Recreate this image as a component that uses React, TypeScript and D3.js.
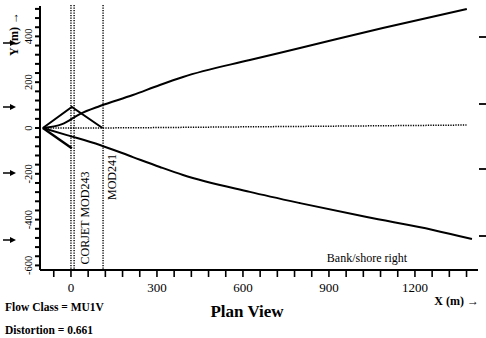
import React from "react";
import * as d3 from "d3";

// Plume boundaries and centreline, plan view (metres)
const upperX = [-98, -31, 31, 101, 216, 310, 391, 624, 799, 1088, 1381];
const upperY = [0, 17, 61, 96, 144, 188, 223, 297, 349, 437, 520];
const lowerX = [-98, -14, 101, 216, 310, 391, 624, 799, 1032, 1263, 1399];
const lowerY = [0, -31, -74, -127, -170, -205, -279, -328, -389, -445, -485];
const centerX = [-98, 0, 600, 1380];
const centerY = [0, 0, 5, 13];
// Near-field outline
const nearX = [-98, 3, 110];
const nearY = [0, 92, 0];
const nearLowX = [-98, 3];
const nearLowY = [0, -88];

// Module boundaries
const modules = [
  { name: "CORJET", x: 0 },
  { name: "MOD243", x: 11 },
  { name: "MOD241", x: 112 },
];

const xTickLabels = [0, 300, 600, 900, 1200];
const yTickLabels = [-600, -400, -200, 0, 200, 400];

const W = 486;
const H = 338;
const serif = "'Liberation Serif', 'Times New Roman', serif";

export default function App() {
  const x = d3.scaleLinear().domain([-108, 1420]).range([40, 478]);
  const y = d3.scaleLinear().domain([-620, 0]).range([270, 128]);
  const yTop = y(528);

  const line = d3
    .line<[number, number]>()
    .x((d) => x(d[0]))
    .y((d) => y(d[1]))
    .curve(d3.curveMonotoneX);
  const straight = d3
    .line<[number, number]>()
    .x((d) => x(d[0]))
    .y((d) => y(d[1]));

  const zip = (a: number[], b: number[]) => a.map((v, i) => [v, b[i]] as [number, number]);

  const xMinorTicks = d3.range(-60, 1400, 60);
  const yMinorTicks = d3.range(-600, 528, 40);

  const leftArrows = [43, 107, 173, 240];
  const rightMarks = [37, 104, 169, 236];

  return (
    <svg
      width={W}
      height={H}
      style={{ position: "absolute", left: 0, top: 0, background: "#fff" }}
      fontFamily={serif}
    >
      <rect x={0} y={0} width={W} height={H} fill="#fff" />

      {/* Module boundary lines */}
      {modules.map((m) => (
        <line
          key={m.name}
          x1={x(m.x)}
          x2={x(m.x)}
          y1={5}
          y2={270}
          stroke="#000"
          strokeWidth={1.4}
          strokeDasharray="1.3,1.2"
        />
      ))}
      <text
        transform={`translate(${x(5) + 17},218) rotate(-90)`}
        textAnchor="middle"
        fontSize={12}
      >
        CORJET MOD243
      </text>
      <text
        transform={`translate(${x(112) + 13},177) rotate(-90)`}
        textAnchor="middle"
        fontSize={12}
      >
        MOD241
      </text>

      {/* Centreline */}
      <path
        d={line(zip(centerX, centerY)) || ""}
        fill="none"
        stroke="#000"
        strokeWidth={1.5}
        strokeDasharray="1.3,1.2"
      />

      {/* Plume boundaries */}
      <path d={line(zip(upperX, upperY)) || ""} fill="none" stroke="#000" strokeWidth={2} />
      <path d={line(zip(lowerX, lowerY)) || ""} fill="none" stroke="#000" strokeWidth={2} />
      <path d={straight(zip(nearX, nearY)) || ""} fill="none" stroke="#000" strokeWidth={2} />
      <path d={straight(zip(nearLowX, nearLowY)) || ""} fill="none" stroke="#000" strokeWidth={2.4} />

      {/* Axes */}
      <line x1={40} x2={40} y1={yTop - 1} y2={270} stroke="#000" strokeWidth={2} />
      <line x1={40} x2={478} y1={270} y2={270} stroke="#000" strokeWidth={2} />
      {yMinorTicks.map((t) => (
        <line key={"yt" + t} x1={35} x2={40} y1={y(t)} y2={y(t)} stroke="#000" strokeWidth={2} />
      ))}
      {xMinorTicks.map((t) => (
        <line key={"xt" + t} x1={x(t)} x2={x(t)} y1={270} y2={277} stroke="#000" strokeWidth={1.6} />
      ))}
      {yTickLabels.map((t) => (
        <text
          key={"yl" + t}
          transform={`translate(32,${y(t)}) rotate(-90)`}
          textAnchor="middle"
          fontSize={10.5}
        >
          {t}
        </text>
      ))}
      {xTickLabels.map((t) => (
        <text key={"xl" + t} x={x(t)} y={292} textAnchor="middle" fontSize={13}>
          {t}
        </text>
      ))}

      {/* Axis titles */}
      <text
        transform="translate(18,34) rotate(-90)"
        textAnchor="middle"
        fontSize={12}
        fontWeight="bold"
      >
        Y (m) →
      </text>
      <text x={479} y={305} textAnchor="end" fontSize={12} fontWeight="bold">
        X (m) →
      </text>
      <text x={367} y={262} textAnchor="middle" fontSize={12}>
        Bank/shore right
      </text>

      {/* Side markers */}
      {leftArrows.map((a) => (
        <g key={"la" + a}>
          <line x1={3} x2={12} y1={a} y2={a} stroke="#000" strokeWidth={1.5} />
          <path d={`M10,${a - 3} L16,${a} L10,${a + 3} Z`} fill="#000" />
        </g>
      ))}
      {rightMarks.map((a) => (
        <line key={"rm" + a} x1={479} x2={486} y1={a} y2={a} stroke="#000" strokeWidth={1.8} />
      ))}

      {/* Footer */}
      <text x={5} y={311} fontSize={11.5} fontWeight="bold">
        Flow Class = MU1V
      </text>
      <text x={5} y={334} fontSize={11.5} fontWeight="bold">
        Distortion = 0.661
      </text>
      <text x={247} y={317} textAnchor="middle" fontSize={17} fontWeight="bold">
        Plan View
      </text>
    </svg>
  );
}
